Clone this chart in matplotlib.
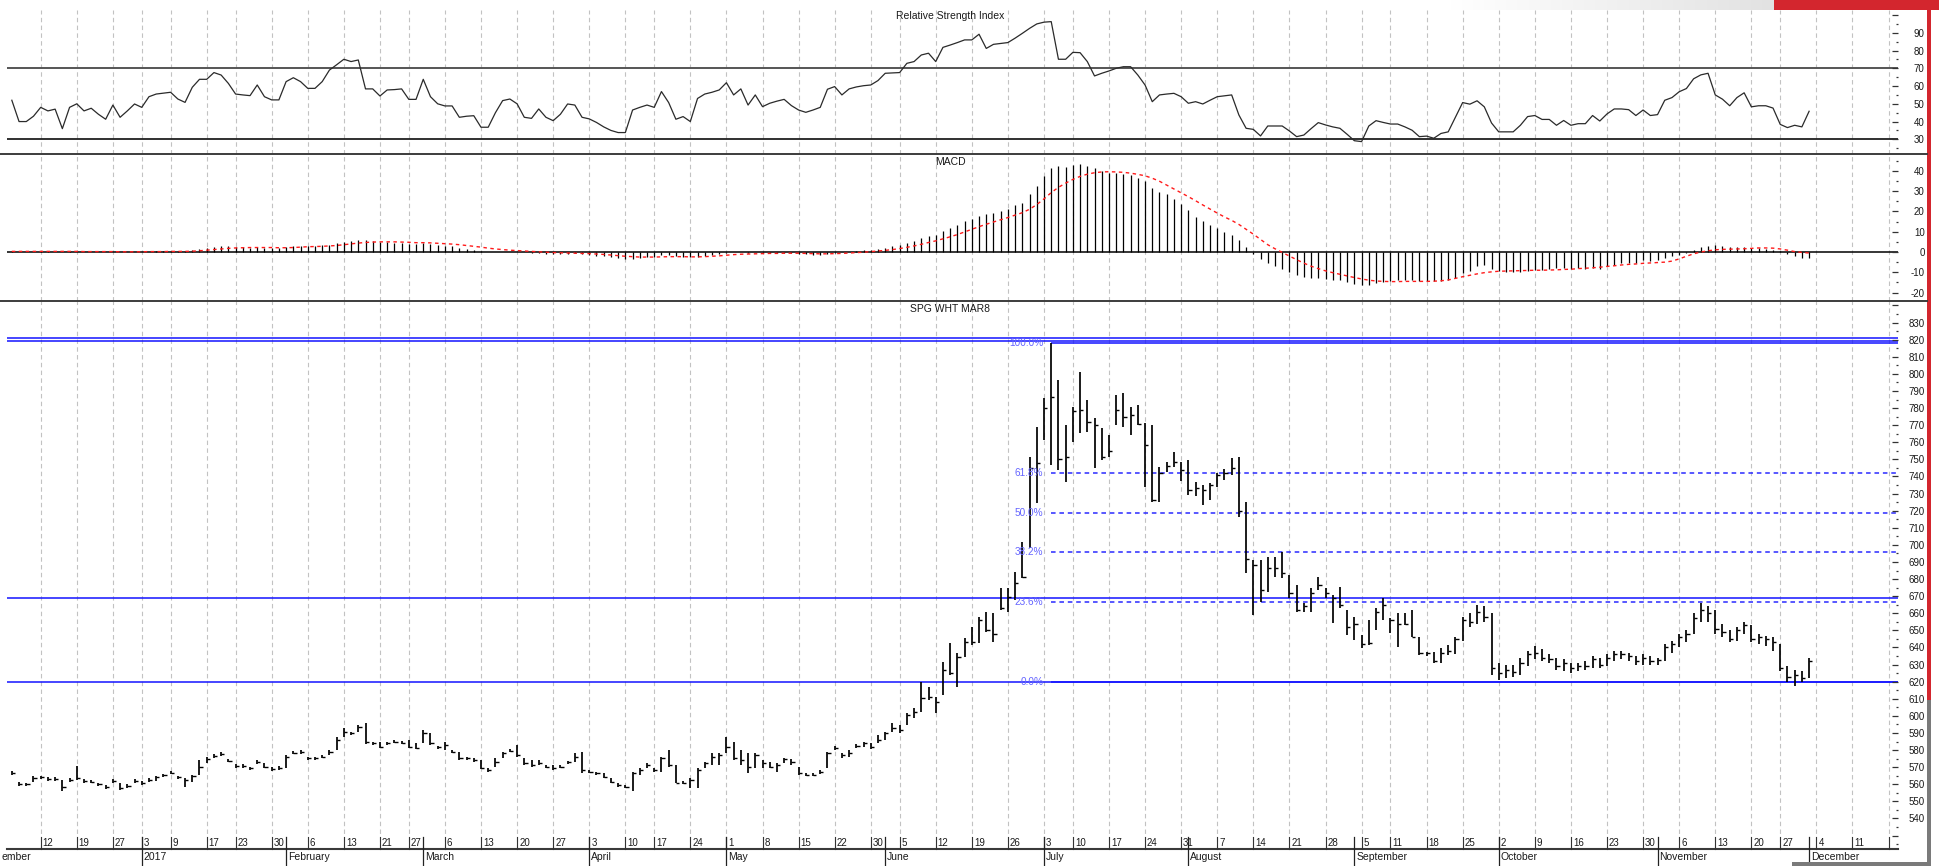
import numpy as np
import matplotlib
matplotlib.use("Agg")
import matplotlib.pyplot as plt
import matplotlib.transforms as mtransforms
from matplotlib.lines import Line2D
from matplotlib.patches import Rectangle
from matplotlib.colors import LinearSegmentedColormap

plt.rcParams['font.family'] = ['Liberation Sans', 'DejaVu Sans']

# ---------------- data ----------------
HOLIDAYS = ['2016-12-26', '2017-01-02', '2017-01-16', '2017-02-20', '2017-04-14',
            '2017-05-29', '2017-07-04', '2017-09-04', '2017-11-23', '2017-12-25']
ANCHOR = '2016-12-12'
FIRST_DAY = '2016-12-06'

highs = [
    568.0, 561.5, 561.0, 565.0, 565.0, 564.0, 564.0, 562.5, 563.5, 570.7,
    563.0, 562.5, 561.0, 559.5, 563.0, 560.6, 560.0, 563.0, 561.8, 563.5,
    564.9, 566.2, 567.6, 565.0, 563.5, 565.6, 574.2, 576.2, 577.5, 578.6,
    575.0, 571.7, 571.7, 570.3, 574.2, 572.3, 570.2, 570.5, 577.2, 579.5,
    580.0, 576.2, 576.2, 577.2, 580.1, 587.9, 592.7, 590.8, 594.7, 595.7,
    585.0, 585.0, 585.0, 586.0, 585.4, 585.9, 584.0, 591.8, 590.2, 582.6,
    584.9, 580.1, 579.1, 576.2, 575.2, 574.2, 569.5, 575.2, 579.1, 580.6,
    583.0, 575.2, 574.2, 574.2, 571.3, 571.3, 571.3, 573.9, 578.1, 579.1,
    568.4, 567.4, 566.4, 563.5, 560.6, 559.6, 567.4, 569.4, 572.3, 569.4,
    576.2, 580.1, 571.3, 562.0, 563.5, 569.4, 573.3, 578.1, 578.1, 587.9,
    585.0, 580.1, 578.1, 578.1, 574.2, 573.3, 572.3, 575.2, 574.6, 570.3,
    566.4, 566.4, 568.4, 579.1, 582.6, 578.1, 580.1, 583.6, 585.0, 584.0,
    588.8, 590.8, 595.7, 594.7, 601.5, 604.4, 620.0, 617.1, 611.3, 631.7,
    642.5, 636.6, 645.4, 652.2, 658.1, 661.0, 660.0, 674.6, 674.6, 684.4,
    701.9, 751.6, 769.2, 785.7, 817.8, 796.5, 770.1, 780.9, 801.3, 784.8,
    774.0, 768.2, 764.3, 787.7, 789.0, 780.9, 781.8, 771.1, 770.1, 745.8,
    748.7, 754.5, 748.7, 749.7, 737.0, 735.0, 736.0, 741.9, 744.2, 750.6,
    751.6, 725.3, 691.2, 691.2, 693.1, 693.1, 696.0, 682.4, 676.6, 665.9,
    674.6, 681.5, 674.6, 670.7, 675.6, 662.0, 658.0, 647.3, 656.0, 663.0,
    668.8, 657.0, 660.0, 660.0, 662.0, 646.4, 637.6, 637.6, 639.5, 641.5,
    646.0, 658.0, 660.0, 665.0, 664.0, 660.0, 631.0, 630.0, 630.0, 634.0,
    638.0, 641.0, 639.0, 636.0, 634.0, 633.0, 631.0, 631.0, 632.0, 635.0,
    634.0, 636.0, 638.0, 638.0, 637.0, 635.0, 636.0, 635.0, 634.0, 642.0,
    644.0, 648.0, 650.0, 660.0, 666.0, 664.0, 662.0, 654.0, 650.0, 652.0,
    655.0, 653.0, 648.0, 647.0, 646.0, 642.0, 629.0, 627.0, 626.0, 634.0,
]
lows = [
    565.5, 559.0, 559.0, 561.5, 563.0, 562.0, 562.0, 556.3, 561.5, 562.5,
    561.0, 560.5, 559.2, 557.5, 561.0, 556.7, 558.0, 561.0, 559.5, 561.5,
    562.0, 564.4, 565.8, 563.2, 558.6, 561.5, 565.4, 572.3, 575.5, 576.6,
    572.8, 569.7, 569.7, 568.3, 572.0, 569.3, 568.0, 568.5, 569.3, 577.5,
    578.0, 574.2, 574.2, 575.2, 577.2, 580.1, 587.9, 588.8, 590.8, 583.6,
    582.8, 581.0, 583.0, 584.0, 583.4, 581.0, 580.4, 584.0, 583.0, 580.6,
    580.1, 578.1, 574.2, 574.2, 573.2, 568.7, 567.0, 570.3, 575.2, 578.6,
    576.2, 571.3, 570.3, 571.3, 569.3, 568.4, 569.3, 571.9, 573.3, 566.8,
    566.4, 565.4, 563.5, 560.6, 558.6, 557.6, 556.3, 565.4, 569.4, 567.4,
    567.4, 570.3, 560.6, 560.0, 557.7, 557.7, 569.4, 571.3, 571.3, 578.1,
    574.2, 571.3, 566.8, 569.4, 569.4, 569.4, 567.4, 572.3, 571.3, 565.4,
    564.9, 564.9, 566.0, 569.4, 580.1, 575.2, 576.2, 581.1, 582.0, 580.5,
    584.0, 585.9, 590.8, 590.2, 594.7, 598.6, 602.5, 609.3, 601.5, 612.2,
    624.0, 616.7, 634.7, 641.5, 642.5, 649.3, 643.4, 662.0, 661.0, 667.8,
    680.5, 698.0, 724.3, 761.4, 746.8, 743.8, 737.0, 760.4, 765.3, 766.2,
    744.8, 749.7, 751.6, 770.1, 769.2, 764.3, 770.1, 734.1, 725.3, 725.3,
    742.9, 745.8, 737.6, 729.2, 728.8, 723.4, 726.3, 734.1, 738.0, 740.9,
    716.5, 683.4, 659.0, 666.8, 672.7, 681.4, 680.5, 668.8, 661.0, 661.0,
    661.0, 673.6, 668.8, 654.2, 662.9, 647.3, 644.4, 639.5, 641.5, 650.3,
    656.1, 648.3, 640.5, 653.2, 646.4, 635.7, 635.1, 631.2, 631.2, 635.7,
    636.0, 644.0, 652.0, 654.0, 655.0, 624.0, 621.0, 622.0, 623.0, 624.0,
    629.0, 633.0, 632.0, 631.0, 627.0, 626.0, 625.0, 626.0, 627.0, 628.0,
    628.0, 629.0, 632.0, 633.0, 632.0, 630.0, 630.0, 630.0, 630.0, 632.0,
    637.0, 640.0, 643.0, 648.0, 655.0, 655.0, 648.0, 646.0, 643.0, 644.0,
    648.0, 643.0, 642.0, 641.0, 638.0, 626.0, 620.0, 617.5, 620.0, 622.0,
]
closes = [
    566.8, 560.0, 560.0, 563.5, 564.1, 562.9, 562.9, 558.6, 562.5, 563.5,
    562.1, 561.5, 560.2, 558.2, 562.1, 557.6, 559.0, 562.1, 560.6, 562.5,
    564.1, 565.4, 566.8, 564.1, 562.5, 564.9, 570.3, 574.6, 576.6, 577.7,
    573.8, 570.7, 570.7, 569.3, 573.2, 570.3, 569.2, 569.5, 576.2, 578.5,
    579.1, 575.2, 575.2, 576.2, 579.1, 585.9, 590.8, 590.2, 593.7, 585.0,
    584.0, 582.0, 584.0, 585.0, 584.4, 582.0, 581.0, 590.2, 584.0, 581.6,
    583.0, 579.1, 575.2, 575.2, 574.2, 569.3, 568.4, 573.3, 578.1, 579.7,
    577.2, 572.3, 571.3, 572.7, 570.3, 569.7, 570.3, 572.9, 576.2, 568.4,
    567.4, 566.4, 564.5, 561.6, 559.6, 558.6, 566.8, 568.4, 571.3, 568.4,
    575.2, 571.3, 561.0, 561.0, 562.5, 568.4, 572.3, 576.2, 577.2, 582.0,
    575.2, 574.2, 570.3, 577.2, 572.3, 570.3, 571.3, 574.6, 573.3, 566.4,
    565.5, 565.5, 567.4, 578.5, 581.1, 577.2, 578.1, 582.6, 584.0, 582.0,
    585.9, 589.8, 592.8, 591.8, 600.5, 602.5, 610.3, 611.3, 608.3, 626.9,
    624.9, 634.7, 643.4, 643.4, 656.0, 650.3, 648.0, 662.9, 669.8, 677.6,
    681.5, 745.0, 748.0, 779.9, 786.7, 750.0, 751.6, 778.0, 779.0, 772.0,
    770.0, 751.6, 755.0, 779.0, 775.0, 776.0, 770.5, 758.4, 726.5, 742.3,
    746.0, 748.7, 743.8, 732.1, 733.0, 732.0, 735.0, 741.0, 742.0, 745.0,
    720.0, 692.0, 688.0, 673.7, 686.3, 686.3, 683.4, 671.7, 662.0, 664.0,
    672.0, 676.6, 671.7, 668.8, 665.0, 652.0, 654.0, 642.0, 642.5, 661.0,
    665.0, 656.0, 654.0, 654.0, 646.4, 637.0, 636.6, 632.0, 636.6, 638.0,
    645.0, 656.0, 655.0, 661.0, 658.0, 628.0, 625.0, 627.0, 625.5, 631.0,
    636.0, 637.0, 634.0, 633.0, 629.0, 631.0, 628.0, 629.0, 629.0, 633.0,
    630.0, 634.0, 636.0, 636.0, 635.0, 632.0, 634.0, 632.0, 632.5, 640.0,
    642.0, 646.0, 648.0, 657.0, 662.0, 660.0, 651.0, 649.0, 645.0, 650.0,
    653.0, 645.0, 646.0, 645.0, 643.0, 628.0, 623.0, 624.0, 622.0, 632.0,
]
rsi = [
    52, 40, 40, 43, 48, 46, 47, 36, 48, 50,
    46, 47.5, 44.1, 41.3, 49.3, 42.4, 46, 49.9, 48, 54,
    55.5, 56, 56.5, 52.7, 50.8, 59.3, 63.8, 63.8, 67.6, 66.2,
    61.5, 55.5, 55, 54.6, 60.6, 54, 52.2, 52.2, 62.5, 64.7,
    62.5, 58.7, 58.7, 62.5, 69, 72, 75.1, 73.8, 74.7, 58.4,
    58.4, 54.4, 57.8, 58, 58.4, 52.5, 52.5, 63.8, 54, 50,
    48.8, 48.8, 42.4, 43, 43.3, 36.8, 36.8, 45, 51.8, 52.7,
    50, 42.4, 41.8, 47.1, 42.4, 40.5, 44.1, 49.9, 49.3, 42.4,
    41.5, 39.5, 37, 35, 33.8, 33.8, 46.5, 48, 49.3, 48,
    56.9, 50.7, 41.3, 42.8, 40, 53, 55.5, 56.5, 57.8, 61.9,
    55, 58.4, 49.3, 55, 48.4, 50.3, 51.5, 52.5, 49, 46.5,
    45.2, 46.5, 48, 58.2, 59.7, 55, 58.4, 59.5, 60.2, 60.6,
    63.1, 67.2, 67.4, 67.6, 72.8, 73.8, 77.5, 78.5, 73.8, 81.8,
    83.1, 84.5, 86, 86, 89.2, 81.2, 83.5, 84, 84.5, 87,
    89.7, 92.5, 95, 96, 96.3, 75.1, 75.1, 79, 78.8, 73.8,
    65.7, 67.2, 68.5, 70, 70.9, 70.9, 66.2, 60.6, 51.2, 55,
    55.5, 55.9, 54, 50.3, 51.2, 49.9, 52, 54, 54.5, 55,
    43.7, 36.2, 35.6, 31.9, 37.5, 37.5, 37.5, 34.7, 31.5, 32.4,
    36, 39.4, 38.1, 37, 36.2, 32.8, 29.2, 28.7, 37.5, 40.5,
    39.5, 38.6, 38.6, 37, 35.1, 31.5, 31.8, 30.6, 33.3, 34.2,
    42.5, 50.7, 49.8, 51.7, 48.3, 39.2, 34.2, 34.2, 34.2, 37.9,
    42.8, 43.4, 41.2, 41.2, 37.9, 40.6, 37.9, 38.8, 38.8, 43.4,
    40.3, 44.3, 47.1, 47.1, 46.7, 43.4, 46.5, 43.4, 43.9, 52,
    53.5, 56.8, 58.6, 64.1, 66.3, 67.2, 55, 52.6, 48.9, 53.5,
    56.2, 48.3, 48.9, 48.9, 47.6, 38.4, 36.6, 37.9, 37, 45.8,
]
macd = [
    0.3, 0.2, 0.1, 0.2, 0.3, 0.3, 0.2, 0.2, 0.3, 0.2,
    0.1, 0.1, 0.0, 0.0, 0.1, -0.1, -0.1, 0.0, 0.0, 0.1,
    0.3, 0.5, 0.6, 0.6, 0.5, 1.0, 1.6, 2.2, 2.7, 3.0,
    2.9, 2.6, 2.4, 2.2, 2.3, 2.1, 1.9, 1.8, 2.3, 2.8,
    3.2, 3.2, 3.2, 3.3, 3.6, 4.3, 5.1, 5.6, 6.1, 5.8,
    5.5, 5.1, 4.8, 4.6, 4.4, 4.1, 3.8, 4.3, 4.0, 3.5,
    3.2, 2.8, 2.2, 1.7, 1.2, 0.5, 0.0, -0.1, 0.0, 0.1,
    0.1, -0.2, -0.5, -0.6, -0.8, -1.0, -1.0, -0.9, -0.7, -1.0,
    -1.4, -1.8, -2.2, -2.7, -3.2, -3.6, -3.4, -3.0, -2.6, -2.3,
    -1.7, -1.6, -2.1, -2.4, -2.6, -2.3, -1.9, -1.4, -0.9, -0.3,
    -0.2, -0.2, -0.4, -0.2, -0.3, -0.4, -0.5, -0.4, -0.4, -0.8,
    -1.1, -1.3, -1.3, -0.8, -0.3, -0.1, 0.1, 0.4, 0.8, 1.1,
    1.6, 2.2, 2.9, 3.5, 4.6, 5.6, 7.0, 8.0, 8.6, 10.4,
    11.6, 13.3, 15.1, 16.5, 17.9, 18.6, 19.0, 20.2, 21.4, 23.0,
    24.3, 28.5, 32.6, 37.5, 41.5, 42.5, 42.0, 42.8, 43.3, 42.6,
    41.5, 40.2, 39.0, 38.9, 38.5, 37.8, 36.7, 35.0, 31.8, 29.6,
    28.5, 26.0, 23.5, 20.5, 17.5, 15.5, 13.5, 11.8, 10.0, 8.5,
    6.0, 2.5, -1.0, -3.5, -5.5, -7.0, -8.5, -9.8, -11.2, -12.2,
    -12.8, -13.0, -13.3, -13.6, -14.0, -14.8, -15.8, -16.5, -16.3, -15.4,
    -14.6, -14.4, -14.0, -13.6, -13.6, -14.5, -14.5, -14.5, -14.5, -13.6,
    -12.8, -10.4, -9.5, -7.1, -6.2, -8.4, -9.5, -10.0, -10.0, -10.0,
    -9.5, -8.7, -8.7, -8.4, -7.9, -7.9, -8.4, -7.9, -8.4, -7.9,
    -8.4, -7.0, -6.2, -5.4, -5.4, -5.4, -4.1, -4.6, -4.1, -3.0,
    -2.1, -1.3, -0.3, 0.8, 2.5, 3.1, 3.6, 3.1, 2.5, 2.5,
    2.5, 2.0, 2.0, 1.5, 1.2, 0.3, -0.8, -1.8, -3.0, -3.0,
]
signal = [
    0.3, 0.3, 0.3, 0.3, 0.3, 0.3, 0.3, 0.3, 0.3, 0.3,
    0.2, 0.2, 0.2, 0.2, 0.2, 0.1, 0.1, 0.1, 0.1, 0.2,
    0.2, 0.2, 0.3, 0.3, 0.3,
    0.4, 0.6, 0.9, 1.2, 1.5, 1.8, 2.0, 2.1, 2.2, 2.2,
    2.2, 2.2, 2.1, 2.1, 2.2, 2.4, 2.6, 2.7, 2.8, 3.0,
    3.2, 3.6, 4.0, 4.4, 4.7, 4.9, 5.0, 5.0, 5.0, 4.9,
    4.8, 4.6, 4.6, 4.5, 4.3, 4.1,
    3.9, 3.6, 3.2, 2.8, 2.4, 1.9, 1.5, 1.2, 0.9, 0.7,
    0.5, 0.3, 0.1, -0.1, -0.3, -0.4, -0.5, -0.6, -0.7,
    -0.8, -1.0, -1.2, -1.5, -1.8, -2.1, -2.3, -2.5, -2.5, -2.5,
    -2.4, -2.3, -2.3, -2.3, -2.4, -2.4, -2.3, -2.1, -1.9, -1.6,
    -1.3, -1.1, -1.0, -0.9, -0.8, -0.7, -0.7, -0.6, -0.6, -0.6,
    -0.7, -0.8, -0.9, -0.9, -0.8,
    -0.7, -0.5, -0.3, -0.1, 0.2, 0.5, 0.8, 1.2, 1.7, 2.3,
    3.0, 3.8, 4.7, 5.5, 6.5, 7.5, 8.6, 9.9,
    11.2, 12.5, 13.7, 14.8, 15.9, 17.0, 18.2, 19.4, 21.1, 23.4,
    26.2, 29.3,
    31.9, 34.0, 35.8, 37.3, 38.4, 39.1, 39.5, 39.6, 39.5, 39.3,
    38.9, 38.3, 37.6, 36.4, 34.9,
    33.0, 31.1, 29.2, 27.3, 25.3, 23.2, 21.2, 19.2, 17.3, 15.6,
    13.6, 11.2, 8.8, 6.2, 3.6,
    1.6, -0.2, -2.0, -3.8, -5.5, -7.0, -8.2, -9.3, -10.2, -11.0,
    -11.8, -12.6, -13.3, -13.9, -14.3, -14.5, -14.6, -14.6,
    -14.5, -14.5, -14.5, -14.5, -14.4, -14.2, -13.8, -13.0, -12.2, -11.5,
    -10.8, -10.2, -9.8, -9.5, -9.4, -9.3, -9.2, -9.1, -9.0, -9.0,
    -8.9, -8.8, -8.6, -8.5, -8.2, -8.0, -7.8, -7.5, -7.1, -6.8,
    -6.4, -6.1, -5.9, -5.6, -5.4, -5.2, -5.0, -4.5, -3.4, -2.1,
    -0.9, 0.0, 0.6, 1.1, 1.3, 1.4, 1.5, 1.6, 1.8, 2.0,
    2.0, 1.9, 1.5, 0.9, 0.2, -0.2, -0.5,
]

week_dates = ['2016-12-12', '2016-12-19', '2016-12-27', '2017-01-03', '2017-01-09',
              '2017-01-17', '2017-01-23', '2017-01-30', '2017-02-06', '2017-02-13',
              '2017-02-21', '2017-02-27', '2017-03-06', '2017-03-13', '2017-03-20',
              '2017-03-27', '2017-04-03', '2017-04-10', '2017-04-17', '2017-04-24',
              '2017-05-01', '2017-05-08', '2017-05-15', '2017-05-22', '2017-05-30',
              '2017-06-05', '2017-06-12', '2017-06-19', '2017-06-26', '2017-07-03',
              '2017-07-10', '2017-07-17', '2017-07-24', '2017-07-31', '2017-08-07',
              '2017-08-14', '2017-08-21', '2017-08-28', '2017-09-05', '2017-09-11',
              '2017-09-18', '2017-09-25', '2017-10-02', '2017-10-09', '2017-10-16',
              '2017-10-23', '2017-10-30', '2017-11-06', '2017-11-13', '2017-11-20',
              '2017-11-27', '2017-12-04', '2017-12-11']
week_labels = [d[-2:].lstrip('0') for d in week_dates]
grid_only_dates = ['2017-12-18']
month_dates = ['2017-01-03', '2017-02-01', '2017-03-01', '2017-04-03',
               '2017-05-01', '2017-06-01', '2017-07-03', '2017-08-01', '2017-09-01',
               '2017-10-02', '2017-11-01', '2017-12-01']
month_labels = ['2017', 'February', 'March', 'April', 'May', 'June',
                'July', 'August', 'September', 'October', 'November', 'December']
# the December 2016 month label runs off the left edge; only its tail shows
edge_month_label = 'ember'

rsi_bands = [70, 30]
fib_low = 620.0
fib_ratios = [1.0, 0.618, 0.5, 0.382, 0.236, 0.0]
fib_labels = ['100.0%', '61.8%', '50.0%', '38.2%', '23.6%', '0.0%']
solid_levels = [820.7, 819.3, 669.0, 620.0]

n = len(closes)
for name, arr in (('highs', highs), ('lows', lows), ('rsi', rsi), ('macd', macd), ('signal', signal)):
    assert len(arr) == n, (name, len(arr), n)


def tidx(d):
    return int(np.busday_count(ANCHOR, d, holidays=HOLIDAYS))


idx = tidx(FIRST_DAY) + np.arange(n)
highs = np.array(highs); lows = np.array(lows); closes = np.array(closes)

# ---------------- figure / layout ----------------
W, H = 1939, 866
fig = plt.figure(figsize=(W / 100, H / 100), dpi=100)
fig.patch.set_facecolor('white')


def fx(x):
    return x / W


def fy(y):
    return 1 - y / H


L_PX, R_PX = 7, 1898
X0_PX, DX_PX = 40.7, 7.218
xlim = ((L_PX - X0_PX) / DX_PX, (R_PX - X0_PX) / DX_PX)

ax_rsi = fig.add_axes([fx(L_PX), fy(154), fx(R_PX - L_PX), (154 - 10) / H])
ax_macd = fig.add_axes([fx(L_PX), fy(300.5), fx(R_PX - L_PX), (300.5 - 154) / H])
ax_px = fig.add_axes([fx(L_PX), fy(849), fx(R_PX - L_PX), (849 - 300.5) / H])

ax_rsi.set_ylim(21.72, 102.85)
ax_macd.set_ylim(-23.93, 48.35)
ax_px.set_ylim(522.16, 842.9)

TXT = '#1a1a1a'
for ax in (ax_rsi, ax_macd, ax_px):
    ax.set_xlim(*xlim)
    ax.set_xticks([])
    ax.set_facecolor('none')
    for s in ax.spines.values():
        s.set_visible(False)
ax_px.spines['bottom'].set_visible(True)
ax_px.spines['bottom'].set_color('#3a3a3a')
ax_px.spines['bottom'].set_linewidth(1.5)

# vertical weekly dashed grid
grid_idx = [tidx(d) for d in week_dates + grid_only_dates]
for ax in (ax_rsi, ax_macd, ax_px):
    for gi in grid_idx:
        ax.axvline(gi, color='#c2c2c2', lw=0.8, ls=(0, (4, 3)), zorder=0)


def setup_y(ax, majors, labels, minors):
    ax.yaxis.tick_right()
    ax.set_yticks(majors)
    ax.set_yticklabels(labels)
    ax.set_yticks(minors, minor=True)
    ax.tick_params(axis='y', which='major', direction='in', length=4.3, width=0.9,
                   color='#333333', labelsize=7, pad=19.2, labelcolor=TXT)
    ax.tick_params(axis='y', which='minor', direction='in', length=1.8, width=0.9,
                   color='#333333')
    plt.setp(ax.get_yticklabels(), ha='right')


rsi_major = list(range(30, 101, 10))
setup_y(ax_rsi, rsi_major, [str(v) if v < 100 else '' for v in rsi_major],
        list(range(25, 100, 10)))
macd_major = list(range(-20, 41, 10))
setup_y(ax_macd, macd_major, [str(v) for v in macd_major], list(range(-15, 46, 10)))
px_major = list(range(530, 841, 10))
setup_y(ax_px, px_major, [str(v) if 540 <= v <= 830 else '' for v in px_major],
        list(range(525, 841, 10)))

# ---------------- RSI ----------------
ax_rsi.axhline(rsi_bands[0], color='#555555', lw=1.4, zorder=1)
ax_rsi.axhline(rsi_bands[1], color='#202020', lw=1.3, zorder=1)
ax_rsi.plot(idx, rsi, color='#2a2a2a', lw=0.9, zorder=3)

# ---------------- MACD ----------------
ax_macd.axhline(0, color='black', lw=1.1, zorder=1)
ax_macd.vlines(idx, 0, macd, color='black', lw=0.9, zorder=2)
ax_macd.plot(idx, signal, color='#ff1a1a', lw=1.0, ls=(0, (2.5, 2.5)), zorder=3)

# ---------------- price ----------------
for lv in solid_levels:
    ax_px.axhline(lv, color='#1414ff', lw=1.1, zorder=1)
peak_i = idx[int(np.argmax(highs))]
fib_high = float(highs.max())
x_end = xlim[1]
for r, lab in zip(fib_ratios, fib_labels):
    lv = fib_low + r * (fib_high - fib_low)
    if r in (1.0, 0.0):
        ax_px.hlines(lv, peak_i, x_end, color='#1414ff', lw=1.1, zorder=1)
    else:
        ax_px.hlines(lv, peak_i, x_end, color='#2a2aff', lw=1.1,
                     ls=(0, (3, 2.5)), zorder=1)
    ax_px.text(peak_i - 1.1, lv, lab, ha='right', va='center', fontsize=7.2,
               color='#6464ff', zorder=4)

ax_px.vlines(idx, lows, highs, color='black', lw=1.25, zorder=3)
ax_px.hlines(closes, idx, idx + 0.45, color='black', lw=1.0, zorder=3)

# ---------------- titles ----------------
fig.text(fx(950), fy(16), 'Relative Strength Index', ha='center', va='center',
         fontsize=7.5, color=TXT)
fig.text(fx(950), fy(162), 'MACD', ha='center', va='center', fontsize=7.5, color=TXT)
fig.text(fx(950), fy(309), 'SPG WHT MAR8', ha='center', va='center', fontsize=7.5,
         color=TXT)

# ---------------- x axis (date) labels ----------------
trans = mtransforms.blended_transform_factory(ax_px.transData, fig.transFigure)
ttrans = mtransforms.offset_copy(trans, fig=fig, x=2, y=0, units='dots')
for d, lab in zip(week_dates, week_labels):
    i = tidx(d)
    ax_px.plot([i, i], [fy(836.5), fy(849)], transform=trans, color='#333333',
               lw=0.8, clip_on=False, zorder=5)
    ax_px.text(i, fy(843), lab, transform=ttrans, ha='left', va='center',
               fontsize=7, color=TXT, clip_on=False)
for d in grid_only_dates:
    i = tidx(d)
    ax_px.plot([i, i], [fy(836.5), fy(849)], transform=trans, color='#333333',
               lw=0.8, clip_on=False, zorder=5)
for d, lab in zip(month_dates, month_labels):
    i = tidx(d)
    ax_px.plot([i, i], [fy(836.5), fy(866)], transform=trans, color='#222222',
               lw=0.9, clip_on=False, zorder=5)
    ax_px.text(i, fy(857), lab, transform=ttrans, ha='left', va='center',
               fontsize=7.5, color=TXT, clip_on=False)
fig.text(fx(1), fy(857), edge_month_label, ha='left', va='center', fontsize=7.5,
         color=TXT)

# ---------------- panel separators & window chrome ----------------
for ysep in (154, 300.5):
    fig.add_artist(Line2D([0, fx(1927)], [fy(ysep), fy(ysep)], color='#3c3c3c', lw=1.4))

gax = fig.add_axes([fx(1450), fy(10), fx(1774 - 1450), 10 / H])
gax.imshow(np.linspace(0, 1, 256)[None, :], aspect='auto',
           cmap=LinearSegmentedColormap.from_list('g', ['#ffffff', '#e2e2e2']))
gax.axis('off')
fig.add_artist(Rectangle((fx(1774), fy(10)), fx(W - 1774), 10 / H,
                         transform=fig.transFigure, color='#d3262e', lw=0))
fig.add_artist(Rectangle((fx(1927), fy(700)), fx(3.5), 700 / H,
                         transform=fig.transFigure, color='#d3262e', lw=0))
fig.add_artist(Rectangle((fx(1927), 0), fx(4), 166 / H,
                         transform=fig.transFigure, color='#7a7a7a', lw=0))
fig.add_artist(Rectangle((fx(1792), 0), fx(1931 - 1792), 4 / H,
                         transform=fig.transFigure, color='#7a7a7a', lw=0))

fig.savefig('out.png', dpi=100)
